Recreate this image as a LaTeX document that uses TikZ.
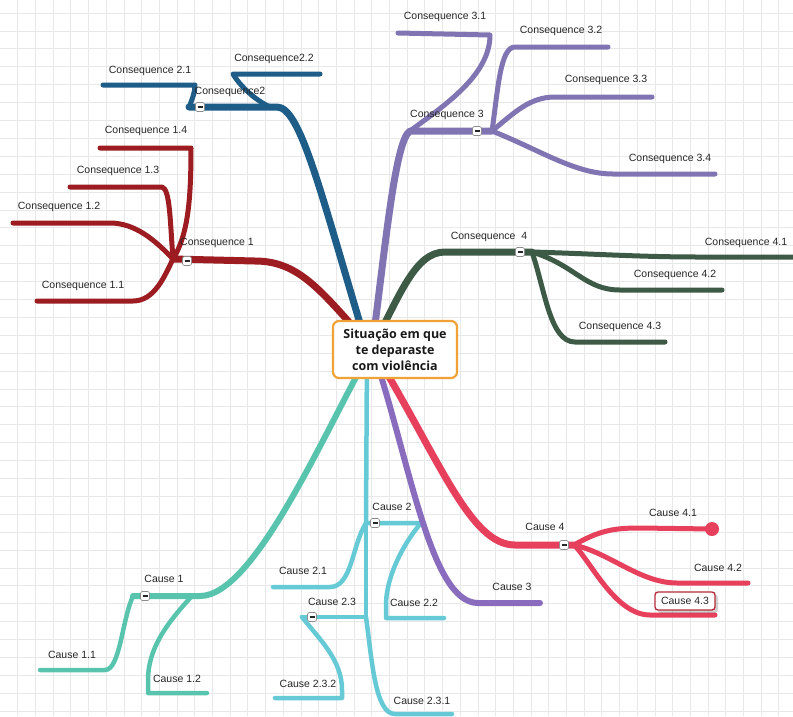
\documentclass[tikz,border=0pt]{standalone}
\usepackage{fontspec}
\setmainfont{Liberation Sans}
\newfontfamily\ctrfont{Open Sans}
\definecolor{cA}{HTML}{9C1C21}
\definecolor{cB}{HTML}{1D5D88}
\definecolor{cC}{HTML}{8075B2}
\definecolor{cD}{HTML}{3C5A46}
\definecolor{kA}{HTML}{58C4AE}
\definecolor{kB}{HTML}{66C9D6}
\definecolor{kC}{HTML}{8A6CBE}
\definecolor{kD}{HTML}{E6405C}
\definecolor{ctrorange}{HTML}{F0A236}
\definecolor{boxred}{HTML}{B52A38}
\tikzset{
  gridln/.style={draw=black!9, line width=0.7pt},
  br/.style={line width=5pt, line cap=round, line join=round},
  brm/.style={line width=7pt, line cap=round, line join=round},
  brs/.style={line width=4.5pt, line cap=round, line join=round},
  lbl/.style={font=\fontsize{10.5}{12}\selectfont, text=black!85, inner sep=1pt},
  tog/.style={draw=black!45, fill=white, rounded corners=1.5pt, minimum size=9pt,
    inner sep=0pt, line width=0.6pt,
    path picture={\draw[line width=1.3pt, black!85]
      ([xshift=-2.5pt]path picture bounding box.center) --
      ([xshift=2.5pt]path picture bounding box.center);}},
  ctrbox/.style={draw=ctrorange, line width=2.2pt, fill=white, rounded corners=6pt,
    minimum width=124pt, minimum height=57pt, align=center, inner sep=2pt,
    font=\ctrfont\bfseries\fontsize{12.5}{16}\selectfont, text=black!90},
  selbox/.style={draw=boxred, line width=1.3pt, fill=white, rounded corners=3pt,
    minimum width=60pt, minimum height=18pt, inner sep=1pt,
    font=\fontsize{10.5}{12}\selectfont, text=black!85}
}
\begin{document}
\begin{tikzpicture}[x=1pt,y=-1pt]
\useasboundingbox (0,0) rectangle (793,716);
\fill[white] (0,0) rectangle (793,716);
\foreach \i in {1,...,44} {\draw[gridln] (\i*17.7,0) -- (\i*17.7,716);}
\foreach \j in {0,...,39} {\draw[gridln] (0,13+\j*17.9) -- (793,13+\j*17.9);}

% origins under the central node
\coordinate (O) at (372,348);
\coordinate (O2) at (367,348);

% ---------- Consequence 1 ----------
\coordinate (J1) at (173,259);
\coordinate (H1) at (187,261);
\coordinate (E11) at (37,301);
\coordinate (E12) at (13,223);
\coordinate (E13) at (70,187);
\coordinate (E14) at (100,148);
\draw[brm,cA] (J1) -- (255,261) .. controls (300,261) and (322,292) .. (O);
\draw[br,cA] (J1) .. controls (165,275) and (155,301) .. (133,301) -- (E11);
\draw[br,cA] (J1) .. controls (155,240) and (135,223) .. (110,223) -- (E12);
\draw[br,cA] (J1) .. controls (170,220) and (170,189) .. (162,187) -- (E13);
\draw[br,cA] (J1) .. controls (188,235) and (191,200) .. (191,148) -- (E14);

% ---------- Consequence 2 ----------
\coordinate (J2) at (189,107);
\coordinate (H2) at (200,107);
\coordinate (E21) at (103,85);
\coordinate (E22) at (320,74);
\draw[brm,cB] (J2) -- (277,107) .. controls (300,107) and (320,190) .. (362,330) -- (O);
\draw[br,cB] (J2) .. controls (192,100) and (195,92) .. (195,85) -- (E21);
\draw[br,cB] (J2) -- (270,107) .. controls (255,100) and (240,86) .. (233,74) -- (E22);

% ---------- Consequence 3 ----------
\coordinate (J3) at (492,131);
\coordinate (H3) at (477,131);
\coordinate (E31) at (398,33);
\coordinate (E32) at (608,47);
\coordinate (E33) at (652,97);
\coordinate (E34) at (715,174);
\draw[brm,cC] (O) .. controls (385,250) and (395,140) .. (410,131) -- (J3);
\draw[br,cC] (J3) -- (410,131) .. controls (445,105) and (490,75) .. (490,35) -- (E31);
\draw[br,cC] (J3) .. controls (498,90) and (500,47) .. (515,47) -- (E32);
\draw[br,cC] (J3) .. controls (515,112) and (530,97) .. (555,97) -- (E33);
\draw[br,cC] (J3) .. controls (540,150) and (575,174) .. (613,174) -- (E34);

% ---------- Consequence 4 ----------
\coordinate (J4) at (532,252);
\coordinate (H4) at (520,252);
\coordinate (E41) at (793,257);
\coordinate (E42) at (722,290);
\coordinate (E43) at (665,342);
\draw[brm,cD] (O) .. controls (400,295) and (415,252) .. (445,252) -- (J4);
\draw[br,cD] (J4) .. controls (600,254) and (640,257) .. (700,257) -- (E41);
\draw[br,cD] (J4) .. controls (575,265) and (585,290) .. (620,290) -- (E42);
\draw[br,cD] (J4) .. controls (545,290) and (550,342) .. (575,342) -- (E43);

% ---------- Cause 1 ----------
\coordinate (K1) at (133,596);
\coordinate (HK1) at (145,596);
\coordinate (F11) at (40,670);
\coordinate (F12) at (207,693);
\draw[brm,kA,line width=6pt] (O) .. controls (325,430) and (255,596) .. (200,596) -- (K1);
\draw[brs,kA] (K1) .. controls (122,620) and (120,670) .. (105,670) -- (F11);
\draw[brs,kA] (K1) -- (192,596) .. controls (165,625) and (148,650) .. (148,680) -- (148,693) -- (F12);

% ---------- Cause 2 ----------
\coordinate (K2) at (366,523);
\coordinate (HK2) at (375,523);
\coordinate (K23) at (302,617);
\coordinate (HK23) at (312,617);
\coordinate (F21) at (273,587);
\coordinate (F22) at (444,618);
\coordinate (F231) at (452,714);
\coordinate (F232) at (275,698);
\draw[brs,kB] (O2) -- (K2) -- (421,523);
\draw[brs,kB] (K2) -- (366,617) -- (K23);
\draw[brs,kB] (K2) .. controls (352,545) and (352,587) .. (330,587) -- (F21);
\draw[brs,kB] (421,523) .. controls (400,548) and (386,580) .. (386,605) -- (386,618) -- (F22);
\draw[brs,kB] (K23) .. controls (320,640) and (342,660) .. (342,690) -- (342,698) -- (F232);
\draw[brs,kB] (366,617) .. controls (372,660) and (375,714) .. (395,714) -- (F231);

% ---------- Cause 3 ----------
\coordinate (F3) at (540,603);
\draw[brm,kC,line width=6pt] (O) .. controls (410,460) and (430,603) .. (478,603) -- (F3);

% ---------- Cause 4 ----------
\coordinate (K4) at (574,545);
\coordinate (HK4) at (564,545);
\coordinate (F41) at (712,529);
\coordinate (F42) at (748,583);
\coordinate (F43) at (715,615);
\draw[brm,kD] (O) .. controls (440,460) and (470,545) .. (515,545) -- (K4);
\draw[br,kD] (K4) .. controls (600,530) and (615,528) .. (640,528) -- (F41);
\draw[br,kD] (K4) .. controls (610,553) and (640,583) .. (677,583) -- (F42);
\draw[br,kD] (K4) .. controls (590,560) and (615,615) .. (650,615) -- (F43);
\fill[kD] (F41) circle (7pt);

% ---------- central node ----------
\node[ctrbox] (ctr) at (395,349.5) {Situação em que\\te deparaste\\com violência};

% ---------- collapse toggles ----------
\node[tog] (t1) at (H1) {};
\node[tog] (t2) at (H2) {};
\node[tog] (t3) at (H3) {};
\node[tog] (t4) at (H4) {};
\node[tog] (tk1) at (HK1) {};
\node[tog] (tk2) at (HK2) {};
\node[tog] (tk23) at (HK23) {};
\node[tog] (tk4) at (HK4) {};

% ---------- labels ----------
\node[lbl] (l1) at (217,243) {Consequence 1};
\node[lbl] (l11) at (83,286) {Consequence 1.1};
\node[lbl] (l12) at (59,207) {Consequence 1.2};
\node[lbl] (l13) at (118,171) {Consequence 1.3};
\node[lbl] (l14) at (146,131) {Consequence 1.4};
\node[lbl] (l2) at (230,92) {Consequence2};
\node[lbl] (l21) at (150,71) {Consequence 2.1};
\node[lbl] (l22) at (274,59) {Consequence2.2};
\node[lbl] (l3) at (447,115) {Consequence 3};
\node[lbl] (l31) at (445,17) {Consequence 3.1};
\node[lbl] (l32) at (561,31) {Consequence 3.2};
\node[lbl] (l33) at (606,80) {Consequence 3.3};
\node[lbl] (l34) at (670,159) {Consequence 3.4};
\node[lbl] (l4) at (489,237) {Consequence\ \ 4};
\node[lbl] (l41) at (746,243) {Consequence 4.1};
\node[lbl] (l42) at (675,275) {Consequence 4.2};
\node[lbl] (l43) at (620,327) {Consequence 4.3};
\node[lbl] (m1) at (164,579) {Cause 1};
\node[lbl] (m11) at (72,655) {Cause 1.1};
\node[lbl] (m12) at (177,679) {Cause 1.2};
\node[lbl] (m2) at (392,507) {Cause 2};
\node[lbl] (m21) at (303,571) {Cause 2.1};
\node[lbl] (m22) at (414,603) {Cause 2.2};
\node[lbl] (m23) at (332,602) {Cause 2.3};
\node[lbl] (m231) at (422,701) {Cause 2.3.1};
\node[lbl] (m232) at (308,684) {Cause 2.3.2};
\node[lbl] (m3) at (512,587) {Cause 3};
\node[lbl] (m4) at (545,527) {Cause 4};
\node[lbl] (m41) at (673,513) {Cause 4.1};
\node[lbl] (m42) at (718,568) {Cause 4.2};
\fill[black, opacity=0.18, rounded corners=3pt] (657.5,594.5) rectangle (718,613);
\node[selbox] (m43) at (685,601) {Cause 4.3};
\end{tikzpicture}
\end{document}
